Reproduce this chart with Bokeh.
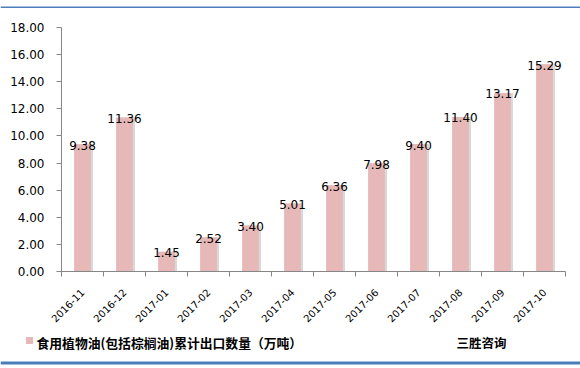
import numpy as np
from bokeh.plotting import figure
from bokeh.layouts import column
from bokeh.models import ColumnDataSource, FixedTicker, NumeralTickFormatter, Range1d
from bokeh.core.properties import value
from bokeh.embed import file_html
from bokeh.resources import INLINE

categories = ["2016-11", "2016-12", "2017-01", "2017-02", "2017-03", "2017-04",
              "2017-05", "2017-06", "2017-07", "2017-08", "2017-09", "2017-10"]
export_volume = [9.38, 11.36, 1.45, 2.52, 3.40, 5.01, 6.36, 7.98, 9.40, 11.40, 13.17, 15.29]
y_ticks = [0, 2, 4, 6, 8, 10, 12, 14, 16, 18]
series_name = "食用植物油(包括棕榈油)累计出口数量（万吨）"
source_name = "三胜咨询"

W = 580
BAR = "#e6b9b8"
BLUE = "#4a7ebb"

pos = [i + 0.5 for i in range(len(categories))]
src = ColumnDataSource(dict(
    x=pos,
    xs=[v + 0.05 for v in pos],
    y=export_volume,
    lab=["%.2f" % v for v in export_volume],
))


def blank(height):
    f = figure(width=W, height=height, x_range=Range1d(0, W), y_range=Range1d(height, 0),
               output_backend="svg", toolbar_location=None, frame_align=False,
               min_border_left=0, min_border_right=0, min_border_top=0, min_border_bottom=0)
    f.axis.visible = False
    f.grid.visible = False
    f.outline_line_color = None
    return f


# top border strip
top = blank(8)
top.segment(x0=[0], y0=[3.5], x1=[W], y1=[3.5], line_color=BLUE, line_width=3)

# main chart
p = figure(width=W, height=320, x_range=(0, len(categories)), y_range=(0, 18),
           output_backend="svg", toolbar_location=None, frame_align=False,
           min_border_left=61, min_border_right=15, min_border_top=19, min_border_bottom=52)
p.outline_line_color = None
p.xgrid.grid_line_color = None
p.ygrid.grid_line_color = None

p.vbar(x="xs", top="y", width=0.4, source=src, fill_color="#d9d9d9", line_color=None)
p.vbar(x="x", top="y", width=0.4, source=src, fill_color=BAR, line_color=None)

p.text(x="x", y="y", text="lab", source=src, text_align="center", text_baseline="alphabetic",
       text_font=value("DejaVu Sans"), text_font_size="12px", text_color="#000000", y_offset=1)

p.yaxis.ticker = FixedTicker(ticks=y_ticks)
p.yaxis.formatter = NumeralTickFormatter(format="0.00")
p.yaxis.major_label_text_font = "DejaVu Sans"
p.yaxis.major_label_text_font_size = "12px"
p.yaxis.major_label_text_color = "#000000"
p.yaxis.major_tick_out = 5
p.yaxis.major_tick_in = 0
p.yaxis.minor_tick_line_color = None
p.yaxis.major_label_standoff = 12
p.yaxis.axis_line_color = "#868686"
p.yaxis.major_tick_line_color = "#868686"

p.xaxis.ticker = FixedTicker(ticks=pos, minor_ticks=list(range(len(categories) + 1)))
p.xaxis.major_label_overrides = {pp: c for pp, c in zip(pos, categories)}
p.xaxis.major_label_orientation = np.pi / 4
p.xaxis.major_label_text_font = "DejaVu Sans"
p.xaxis.major_label_text_font_size = "10px"
p.xaxis.major_label_text_color = "#000000"
p.xaxis.major_tick_out = 0
p.xaxis.major_tick_in = 0
p.xaxis.minor_tick_out = 5
p.xaxis.minor_tick_in = 0
p.xaxis.minor_tick_line_color = "#868686"
p.xaxis.axis_line_color = "#868686"
p.xaxis.major_label_standoff = 14

# legend / source strip
bot = blank(40)
bot.rect(x=[29], y=[12], width=7, height=7, fill_color=BAR, line_color=None)
bot.text(x=[36], y=[13.5], text=[series_name], text_baseline="middle", text_align="left",
         text_font=value("Noto Sans CJK SC"), text_font_size="12.8px",
         text_font_style="bold", text_color="#000000")
bot.text(x=[456], y=[14], text=[source_name], text_baseline="middle", text_align="left",
         text_font=value("Noto Sans CJK SC"), text_font_size="12.5px",
         text_font_style="bold", text_color="#000000")
bot.segment(x0=[0], y0=[34.5], x1=[W], y1=[34.5], line_color=BLUE, line_width=3)

layout = column(top, p, bot, spacing=0)
open("out.html", "w").write(file_html(layout, INLINE))
